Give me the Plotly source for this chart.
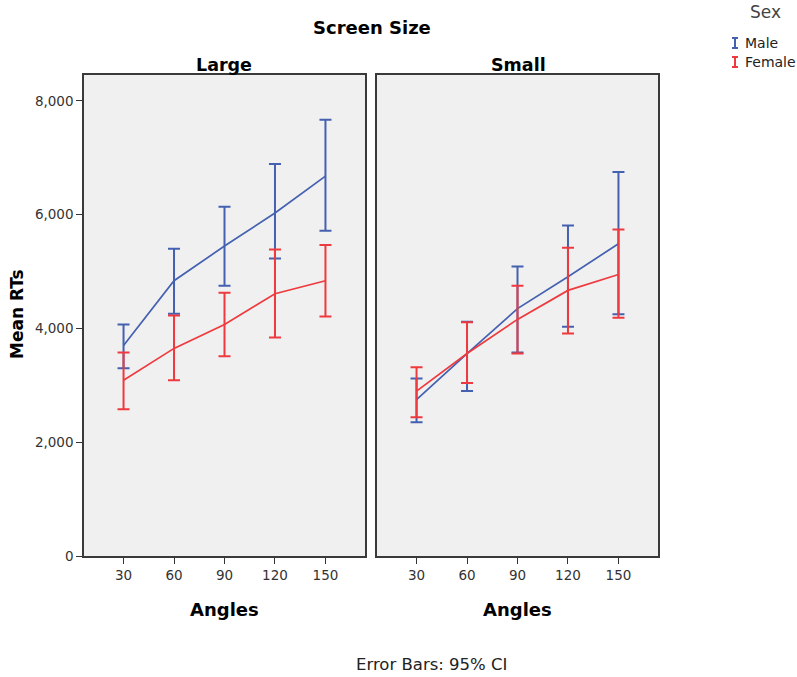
import plotly.graph_objects as go

angles = [30, 60, 90, 120, 150]
tick_vals = [30, 60, 90, 120, 150]
y_ticks = [0, 2000, 4000, 6000, 8000]
y_tick_text = ["0", "2,000", "4,000", "6,000", "8,000"]

# Large screen
large_male_mean = [3700, 4840, 5450, 6030, 6680]
large_male_upper = [4070, 5400, 6140, 6890, 7670]
large_male_lower = [3300, 4260, 4750, 5230, 5720]
large_female_mean = [3090, 3650, 4070, 4610, 4840]
large_female_upper = [3580, 4230, 4630, 5390, 5470]
large_female_lower = [2580, 3090, 3510, 3840, 4210]

# Small screen
small_male_mean = [2750, 3560, 4350, 4910, 5490]
small_male_upper = [3120, 4120, 5090, 5810, 6750]
small_male_lower = [2350, 2900, 3580, 4030, 4250]
small_female_mean = [2900, 3560, 4160, 4670, 4950]
small_female_upper = [3320, 4110, 4750, 5420, 5740]
small_female_lower = [2440, 3040, 3560, 3910, 4190]

BLUE = "#4460B0"
RED = "#EE3A3E"
FONT = "DejaVu Sans, Arial, sans-serif"

fig = go.Figure()


def add(mean, upper, lower, color, xa, ya, name):
    fig.add_trace(go.Scatter(
        x=angles, y=mean, mode="lines", name=name, showlegend=False,
        line=dict(color=color, width=1.7),
        error_y=dict(type="data", symmetric=False,
                     array=[u - m for u, m in zip(upper, mean)],
                     arrayminus=[m - l for m, l in zip(mean, lower)],
                     color=color, thickness=2, width=6),
        xaxis=xa, yaxis=ya, hoverinfo="skip"))


add(large_male_mean, large_male_upper, large_male_lower, BLUE, "x", "y", "Male")
add(large_female_mean, large_female_upper, large_female_lower, RED, "x", "y", "Female")
add(small_male_mean, small_male_upper, small_male_lower, BLUE, "x2", "y2", "Male")
add(small_female_mean, small_female_upper, small_female_lower, RED, "x2", "y2", "Female")

L, R, T, B = 84, 139, 75, 121
W, H = 797, 677
PW, PH = W - L - R, H - T - B


def px(x):
    return (x - L) / PW


def py(y):
    return (H - B - y) / PH


xcommon = dict(range=[6.5, 173.5], tickvals=tick_vals, ticks="outside", ticklen=6,
               tickcolor="#333", tickwidth=1.2, showgrid=False, zeroline=False,
               showline=True, mirror=True, linecolor="#3a3a3a", linewidth=1.5,
               tickfont=dict(family=FONT, size=13.5, color="#333"))
ycommon = dict(range=[0, 8457], tickvals=y_ticks, ticktext=y_tick_text, ticks="outside",
               ticklen=6, tickcolor="#333", tickwidth=1.2, showgrid=False, zeroline=False,
               showline=True, mirror=True, linecolor="#3a3a3a", linewidth=1.5,
               tickfont=dict(family=FONT, size=13.5, color="#333"))

fig.update_layout(
    width=W, height=H,
    margin=dict(l=L, r=R, t=T, b=B),
    paper_bgcolor="white", plot_bgcolor="white",
    xaxis=dict(domain=[0, 281 / PW], anchor="y", **xcommon),
    xaxis2=dict(domain=[293 / PW, 1], anchor="y2", **xcommon),
    yaxis=dict(domain=[0, 1], anchor="x", **ycommon),
    yaxis2=dict(domain=[0, 1], anchor="x2", showticklabels=False,
                **{k: v for k, v in ycommon.items() if k not in ("ticks",)}, ticks=""),
    showlegend=False,
)

# panel backgrounds
for xr, yr in (("x domain", "y domain"), ("x2 domain", "y2 domain")):
    fig.add_shape(type="rect", xref=xr, yref=yr, x0=0, x1=1, y0=0, y1=1,
                  fillcolor="#F0F0F0", line=dict(width=0), layer="below")

ann = []


def text(t, x, y, size, bold=False, color="black", angle=0, anchor="center"):
    ann.append(dict(text=f"<b>{t}</b>" if bold else t, x=px(x), y=py(y),
                    xref="paper", yref="paper", showarrow=False, textangle=angle,
                    xanchor=anchor, yanchor="middle",
                    font=dict(family=FONT, size=size, color=color)))


text("Screen Size", 372, 28, 18, bold=True)
text("Large", 224, 65, 17.5, bold=True)
text("Small", 518, 65, 17.5, bold=True)
text("Angles", 224, 609, 18, bold=True)
text("Angles", 517, 609, 18, bold=True)
text("Mean RTs", 17, 314, 17, bold=True, angle=-90)
text("Error Bars: 95% CI", 431, 664, 16.5, color="#222")
text("Sex", 765, 12, 17, color="#444")
text("Male", 743, 43, 14, color="#222", anchor="left")
text("Female", 743, 62, 14, color="#222", anchor="left")
fig.update_layout(annotations=ann)

# legend glyphs (I-shaped error-bar symbols)
for yc, col in ((43, BLUE), (62, RED)):
    fig.add_shape(type="line", xref="paper", yref="paper", x0=px(735), x1=px(735),
                  y0=py(yc - 5), y1=py(yc + 5), line=dict(color=col, width=2))
    for yy in (yc - 5, yc + 5):
        fig.add_shape(type="line", xref="paper", yref="paper", x0=px(732), x1=px(738),
                      y0=py(yy), y1=py(yy), line=dict(color=col, width=2))

fig.write_html("out.html", config={"displayModeBar": False},
               post_script="document.body.style.margin='0';")
